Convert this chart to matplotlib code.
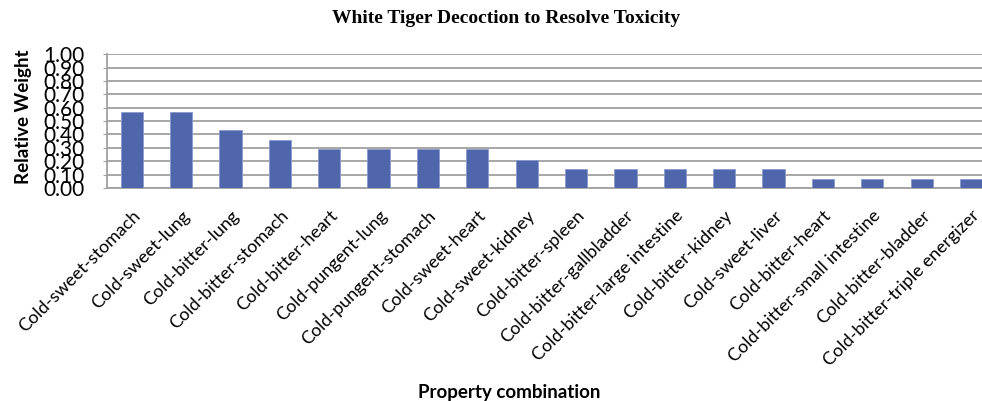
import matplotlib
matplotlib.use("Agg")
import matplotlib.pyplot as plt
import numpy as np

# Datos del gráfico
combinaciones = [
    "Cold-sweet-stomach", "Cold-sweet-lung", "Cold-bitter-lung", "Cold-bitter-stomach",
    "Cold-bitter-heart", "Cold-pungent-lung", "Cold-pungent-stomach", "Cold-sweet-heart",
    "Cold-sweet-kidney", "Cold-bitter-spleen", "Cold-bitter-gallbladder",
    "Cold-bitter-large intestine", "Cold-bitter-kidney", "Cold-sweet-liver",
    "Cold-bitter-heart", "Cold-bitter-small intestine", "Cold-bitter-bladder",
    "Cold-bitter-triple energizer",
]
pesos = [0.57, 0.57, 0.43, 0.36, 0.29, 0.29, 0.29, 0.29, 0.21,
         0.14, 0.14, 0.14, 0.14, 0.14, 0.07, 0.07, 0.07, 0.07]
ticks_y = [0.00, 0.10, 0.20, 0.30, 0.40, 0.50, 0.60, 0.70, 0.80, 0.90, 1.00]

fig = plt.figure(figsize=(9.82, 4.01), dpi=100)
ax = fig.add_axes([0.109, 0.531, 0.905, 0.334])

x = np.arange(len(combinaciones))
ax.bar(x, pesos, width=0.45, color="#5066AB", edgecolor="#8a9ad0", linewidth=0.6, zorder=3)

ax.set_xlim(-0.5, len(combinaciones) - 0.5)
ax.set_ylim(0, 1.0)
ax.set_yticks(ticks_y)
ax.set_yticklabels([f"{v:.2f}" for v in ticks_y], fontsize=15, family="Lato")
ax.set_xticks(x)
ax.set_xticklabels(combinaciones, rotation=45, ha="right", rotation_mode="anchor",
                   fontsize=13, family="Lato")
ax.tick_params(axis="x", length=0, pad=14)
ax.tick_params(axis="y", length=3, color="#a0a0a0", pad=13)

ax.grid(axis="y", color="#a0a0a0", linewidth=1.3, zorder=0)
for lado in ["top", "right"]:
    ax.spines[lado].set_visible(False)
for lado in ["left", "bottom"]:
    ax.spines[lado].set_color("#a0a0a0")
    ax.spines[lado].set_linewidth(1.3)

fig.text(0.515, 0.955, "White Tiger Decoction to Resolve Toxicity", ha="center", va="center",
         fontsize=14, fontweight="bold", family="Liberation Serif")
fig.text(0.519, 0.022, "Property combination", ha="center", va="center",
         fontsize=13.5, fontweight="bold", family="Lato")
fig.text(0.024, 0.71, "Relative Weight", ha="center", va="center", rotation=90,
         fontsize=13.5, fontweight="bold", family="Lato")

fig.savefig("out.png", dpi=100)
